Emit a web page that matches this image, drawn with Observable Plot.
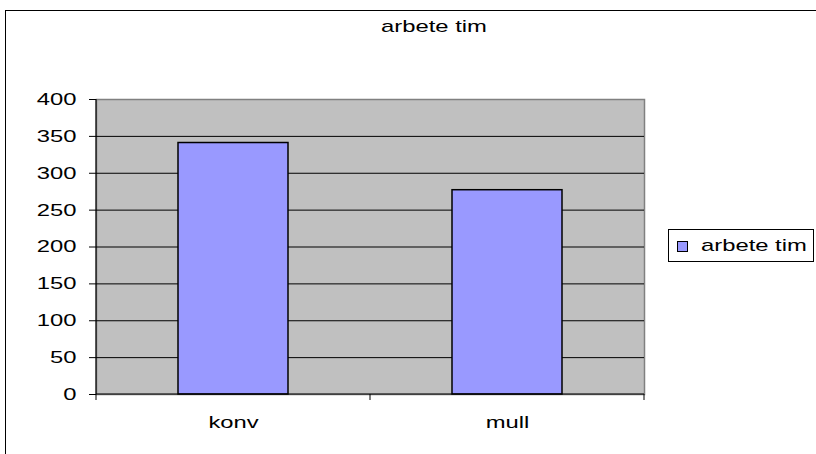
<!DOCTYPE html>
<html>
<head>
<meta charset="utf-8">
<script src="https://cdn.jsdelivr.net/npm/d3@7"></script>
<script src="https://cdn.jsdelivr.net/npm/@observablehq/plot@0.6"></script>
<style>
  html, body { margin: 0; padding: 0; background: #fff; overflow: hidden; width: 816px; height: 454px; }
  #wrap { position: relative; width: 816px; height: 454px; font-family: "Liberation Sans", Arial, sans-serif; overflow: hidden; }
  #frame { position: absolute; left: 5px; top: 10px; width: 900px; height: 600px; border: 1px solid #000; box-sizing: border-box; }
  #title { position: absolute; left: 334px; top: 18px; width: 200px; text-align: center; font-size: 17px; line-height: 17px; color: #000; transform: scaleX(1.4); transform-origin: 100px 0; white-space: nowrap; }
  #legend { position: absolute; left: 668px; top: 229px; width: 146px; height: 33px; border: 1px solid #000; box-sizing: border-box; background: #fff; }
  #legend .sw { position: absolute; left: 8px; top: 11px; width: 9px; height: 9px; border: 1px solid #000; background: #9999FF; }
  #legtext { position: absolute; left: 32px; top: 7px; font-size: 17px; line-height: 17px; white-space: nowrap; transform: scaleX(1.4); transform-origin: 0 0; }
  #chart { position: absolute; left: 0; top: 0; }
</style>
</head>
<body>
<div id="wrap">
  <div id="frame"></div>
  <div id="chart"></div>
  <div id="title"></div>
  <div id="legend"><div class="sw"></div><span id="legtext"></span></div>
</div>
<script>
const titleText = "arbete tim";
const seriesName = "arbete tim";
const categories = ["konv", "mull"];
const values = [341, 277];
const yTicks = [0, 50, 100, 150, 200, 250, 300, 350, 400];

const data = categories.map((c, i) => ({cat: c, value: values[i]}));

document.getElementById("title").textContent = titleText;
document.getElementById("legtext").textContent = seriesName;

const axisLines = (index, scales, values, dim) => {
  const g = d3.create("svg:g");
  const left = dim.marginLeft, right = dim.width - dim.marginRight;
  const top = dim.marginTop, bottom = dim.height - dim.marginBottom;
  g.append("line").attr("x1", left).attr("x2", left).attr("y1", top).attr("y2", bottom)
    .attr("stroke", "#000").attr("stroke-width", 1.2);
  g.append("line").attr("x1", left).attr("x2", right).attr("y1", bottom).attr("y2", bottom)
    .attr("stroke", "#000").attr("stroke-width", 1.2);
  const n = categories.length;
  for (let i = 0; i <= n; i++) {
    const x = left + i * (right - left) / n;
    g.append("line").attr("x1", x).attr("x2", x).attr("y1", bottom).attr("y2", bottom + 6)
      .attr("stroke", "#000").attr("stroke-width", 1);
  }
  return g.node();
};

const chart = Plot.plot({
  width: 816,
  height: 454,
  marginLeft: 96,
  marginRight: 172,
  marginTop: 99,
  marginBottom: 60,
  style: {fontFamily: "Liberation Sans, Arial, sans-serif", fontSize: "17px", color: "#000", background: "transparent"},
  x: {domain: categories, paddingInner: 0.6, paddingOuter: 0.3, label: null},
  y: {domain: [0, 400], label: null},
  marks: [
    Plot.frame({fill: "#C0C0C0", stroke: "#808080", strokeWidth: 1.5}),
    Plot.ruleY(yTicks.filter(d => d > 0 && d < 400), {stroke: "#000", strokeWidth: 1}),
    Plot.barY(data, {x: "cat", y: "value", fill: "#9999FF", stroke: "#000", strokeWidth: 1.5}),
    Plot.axisY({ticks: yTicks, tickSize: 7, tickPadding: 13, fontSize: 17, label: null}),
    Plot.axisX({tickSize: 0, tickPadding: 21, fontSize: 17, label: null}),
    axisLines
  ]
});

// widen text glyphs horizontally to match the stretched reference lettering
d3.select(chart).selectAll("text").each(function() {
  let t = this.getAttribute("transform") || "";
  const x = parseFloat(this.getAttribute("x"));
  const y = parseFloat(this.getAttribute("y"));
  const xs = this.getAttribute("x"), ys = this.getAttribute("y");
  let tx = 0, ty = 0;
  if (xs && !isNaN(x) && !/em$/.test(xs)) { tx = x; this.removeAttribute("x"); }
  if (ys && !isNaN(y) && !/em$/.test(ys)) { ty = y; this.removeAttribute("y"); }
  this.setAttribute("transform", `${t} translate(${tx},${ty}) scale(1.4,1)`);
});

document.getElementById("chart").appendChild(chart);
</script>
</body>
</html>
